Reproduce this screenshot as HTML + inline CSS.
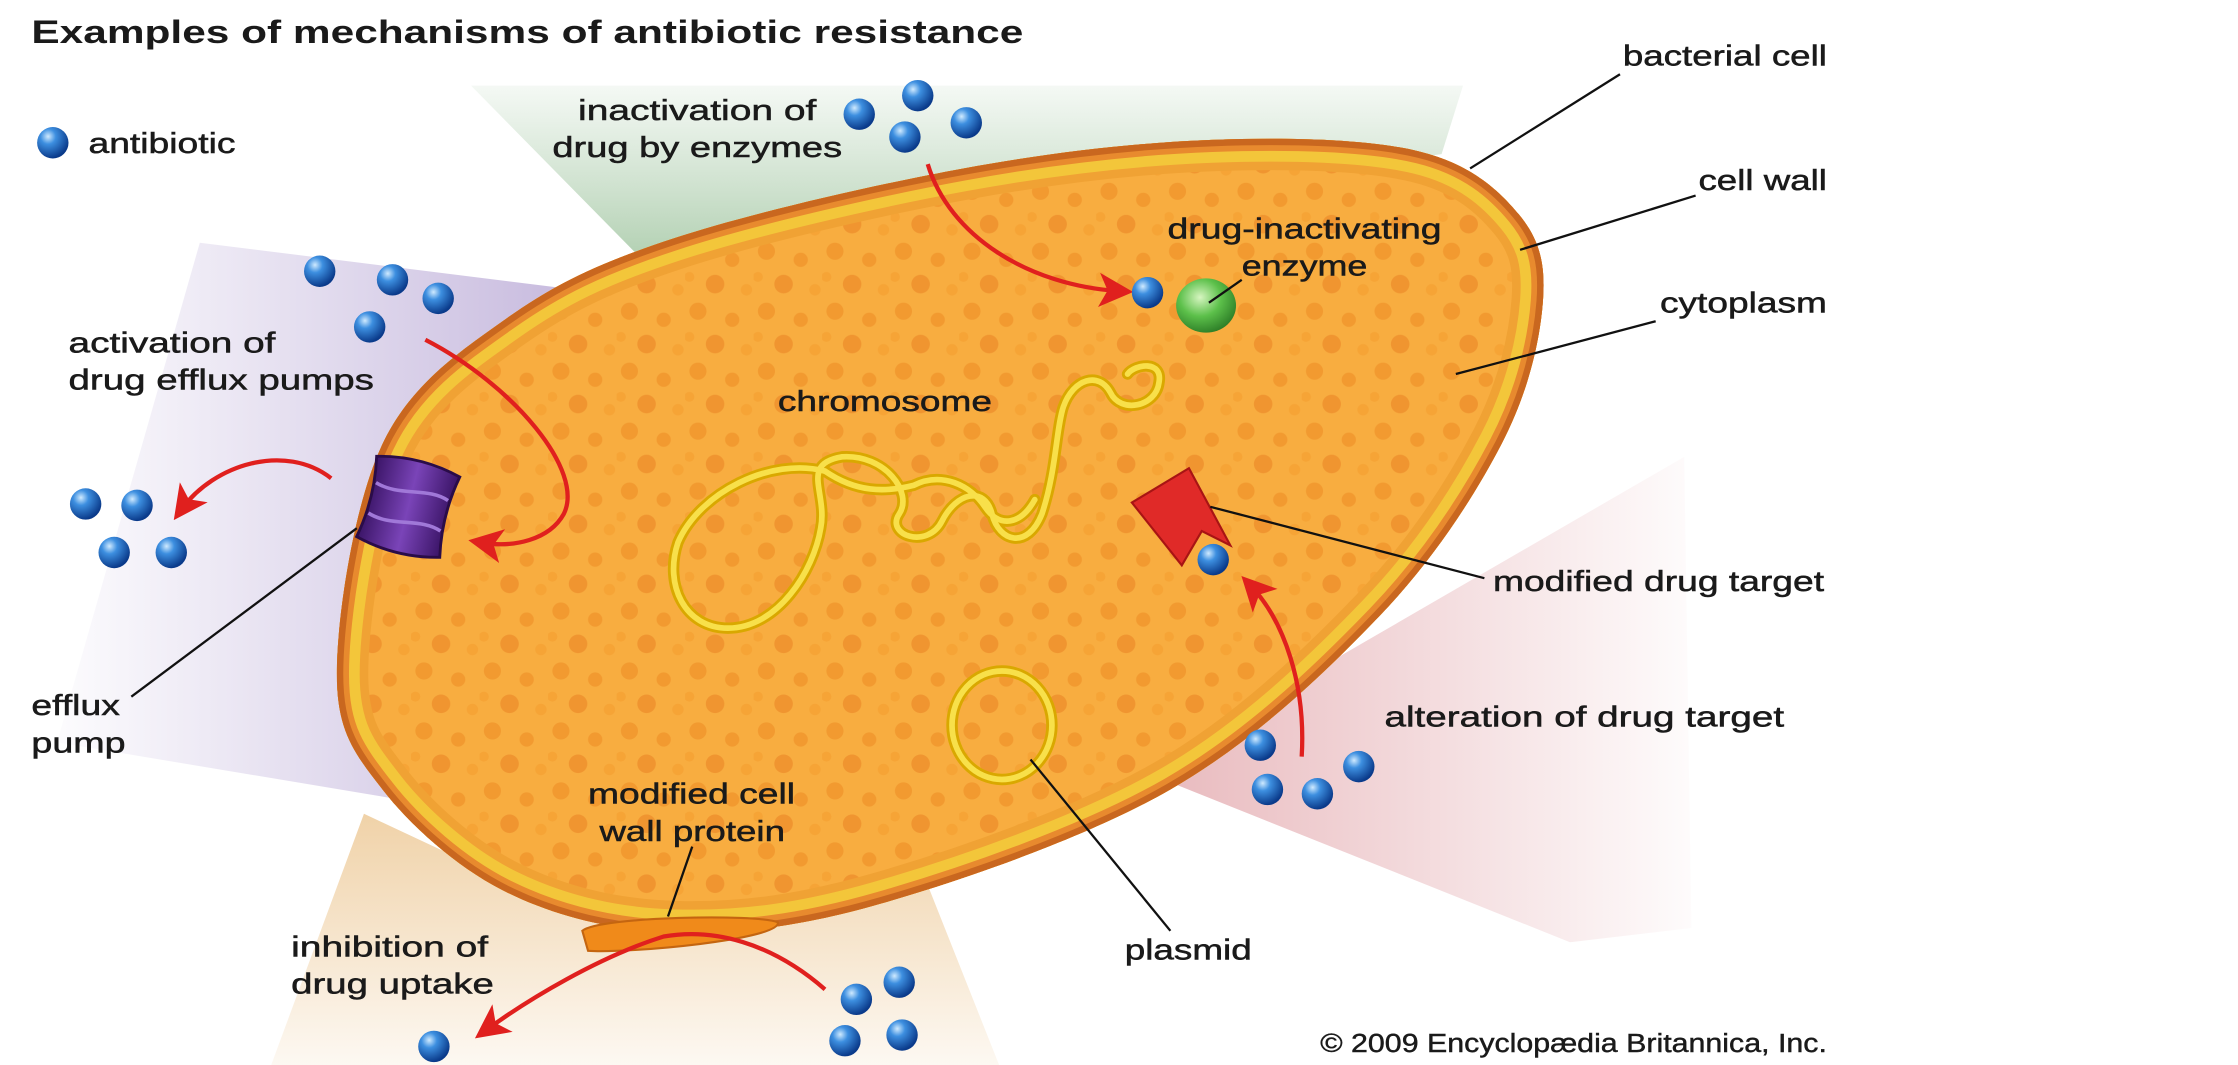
<!DOCTYPE html>
<html><head><meta charset="utf-8"><style>
html,body{margin:0;padding:0;background:#fff;}
svg{display:block;}
text{font-family:"Liberation Sans",Arial,sans-serif;fill:#1a1a1a;}
</style></head><body>
<svg width="2238" height="1065" viewBox="0 0 1568 746" preserveAspectRatio="none" xmlns="http://www.w3.org/2000/svg">
<defs>
<radialGradient id="ball" cx="35%" cy="30%" r="70%">
<stop offset="0" stop-color="#cfeaff"/><stop offset="0.35" stop-color="#3d8fe0"/><stop offset="1" stop-color="#0a3a8a"/>
</radialGradient>
<radialGradient id="grn" cx="40%" cy="35%" r="70%">
<stop offset="0" stop-color="#d6f5c0"/><stop offset="0.5" stop-color="#5cc04a"/><stop offset="1" stop-color="#2a7a25"/>
</radialGradient>
<linearGradient id="gG" x1="0" y1="1" x2="0" y2="0"><stop offset="0" stop-color="#b2d0b2"/><stop offset="1" stop-color="#b8d4b8" stop-opacity="0.15"/></linearGradient>
<linearGradient id="gP" x1="1" y1="0" x2="0" y2="0"><stop offset="0" stop-color="#c4b6dc"/><stop offset="1" stop-color="#c9bde0" stop-opacity="0.05"/></linearGradient>
<linearGradient id="gR" x1="0" y1="0" x2="1" y2="0"><stop offset="0" stop-color="#e8b8bc"/><stop offset="1" stop-color="#e8b8bc" stop-opacity="0.05"/></linearGradient>
<linearGradient id="gO" x1="0" y1="0" x2="0" y2="1"><stop offset="0" stop-color="#f0d2a8"/><stop offset="1" stop-color="#f0d2a8" stop-opacity="0.15"/></linearGradient>
<linearGradient id="pump" x1="0" y1="0" x2="1" y2="0"><stop offset="0" stop-color="#3a1466"/><stop offset="0.5" stop-color="#7a44b8"/><stop offset="1" stop-color="#3a1466"/></linearGradient>
<pattern id="dots" width="48" height="42" patternUnits="userSpaceOnUse">
<rect width="48" height="42" fill="#f8ad40"/>
<circle cx="9" cy="8" r="6" fill="#f29a30"/><circle cx="33" cy="14" r="5" fill="#f29a30"/>
<circle cx="21" cy="31" r="6.5" fill="#f09530"/><circle cx="43" cy="35" r="4" fill="#f6a436"/>
<circle cx="3" cy="26" r="3.5" fill="#f6a436"/>
</pattern>
<path id="cell" d="M236,472 C236,431.7 248.2,352.5 268,311 C287.8,269.5 321,247 355,223 C389,199 418.7,184.5 472,167 C525.3,149.5 612.2,129.5 675,118 C737.8,106.5 795.8,100 849,98 C902.2,96 958.2,97.3 994,106 C1029.8,114.7 1049.5,132.5 1064,150 C1078.5,167.5 1083,184.2 1081,211 C1079,237.8 1071.2,274.2 1052,311 C1032.8,347.8 1004.7,391.7 966,432 C927.3,472.3 878.2,519.5 820,553 C761.8,586.5 675,616.3 617,633 C559,649.7 515.7,654.3 472,653 C428.3,651.7 389,641.7 355,625 C321,608.3 287.8,578.5 268,553 C248.2,527.5 236,512.3 236,472 Z"/>
<clipPath id="cc"><use href="#cell"/></clipPath>
<marker id="ah" markerWidth="8" markerHeight="8" refX="5" refY="4" orient="auto" markerUnits="strokeWidth">
<path d="M0,0 L8,4 L0,8 L2,4 z" fill="#e0201e"/></marker>
</defs>

<polygon points="330,60 1025,60 1010,108 450,182" fill="url(#gG)"/>
<polygon points="140,170 420,205 280,560 40,520" fill="url(#gP)"/>
<polygon points="800,540 1180,320 1185,650 1100,660" fill="url(#gR)"/>
<polygon points="255,570 430,652 650,620 700,746 190,746" fill="url(#gO)"/>

<use href="#cell" fill="url(#dots)"/>
<g clip-path="url(#cc)" fill="none">
<use href="#cell" stroke="#f0a234" stroke-width="44"/>
<use href="#cell" stroke="#f3c63a" stroke-width="32"/>
<use href="#cell" stroke="#e88a2e" stroke-width="17"/>
<use href="#cell" stroke="#c9671f" stroke-width="9"/>
</g>

<g fill="none" stroke="#d9a800" stroke-width="8" stroke-linecap="round" stroke-linejoin="round">
<path d="M578,330 C540,320 490,345 475,380 C465,410 480,440 510,440 C545,440 570,400 575,370 C580,345 560,325 590,320 C620,318 640,345 630,360 C620,375 650,385 660,365 C670,345 690,340 695,360 C700,380 720,385 730,360 C740,330 740,300 745,285 C752,265 770,260 778,275 C785,290 810,285 812,268 C815,252 795,255 790,262"/>
<path d="M578,330 C600,345 620,345 640,340 C660,330 680,340 690,355 C700,370 715,368 725,350"/>
</g>
<g fill="none" stroke="#f8e04a" stroke-width="4" stroke-linecap="round" stroke-linejoin="round">
<path d="M578,330 C540,320 490,345 475,380 C465,410 480,440 510,440 C545,440 570,400 575,370 C580,345 560,325 590,320 C620,318 640,345 630,360 C620,375 650,385 660,365 C670,345 690,340 695,360 C700,380 720,385 730,360 C740,330 740,300 745,285 C752,265 770,260 778,275 C785,290 810,285 812,268 C815,252 795,255 790,262"/>
<path d="M578,330 C600,345 620,345 640,340 C660,330 680,340 690,355 C700,370 715,368 725,350"/>
</g>
<ellipse cx="702" cy="508" rx="35" ry="38" fill="none" stroke="#d9a800" stroke-width="8"/>
<ellipse cx="702" cy="508" rx="35" ry="38" fill="none" stroke="#f8e04a" stroke-width="4"/>

<ellipse cx="845" cy="214" rx="21" ry="19" fill="url(#grn)"/>
<polygon points="793,352 833,328 862,382 842,372 828,396" fill="#e02a28" stroke="#a81414" stroke-width="1.5"/>

<g transform="rotate(14 286 355)">
<path d="M256,326 Q286,318 316,326 Q310,355 316,384 Q286,392 256,384 Q262,355 256,326 Z" fill="url(#pump)" stroke="#2a0c48" stroke-width="2"/>
<path d="M260,344 C278,350 296,338 312,344 M260,366 C278,372 296,360 312,366" stroke="#a078d8" stroke-width="2.5" fill="none"/>
</g>
<path d="M408,652 C420,642 530,640 545,646 C548,658 440,668 412,666 Z" fill="#f08a1a" stroke="#c46510" stroke-width="1.5"/>

<g fill="none" stroke="#e0201e" stroke-width="3" marker-end="url(#ah)">
<path d="M650,115 C665,165 720,200 785,204"/>
<path d="M298,238 C360,270 410,330 395,360 C385,378 360,384 337,380"/>
<path d="M232,335 C200,310 150,325 127,357"/>
<path d="M912,530 C915,480 900,435 876,410"/>
<path d="M578,693 C540,660 500,650 465,656 C420,670 370,700 340,722"/>
</g>

<g stroke="#111" stroke-width="1.6" fill="none">
<line x1="1135" y1="52" x2="1030" y2="118"/>
<line x1="1188" y1="137" x2="1065" y2="175"/>
<line x1="1160" y1="225" x2="1020" y2="262"/>
<line x1="870" y1="196" x2="847" y2="212"/>
<line x1="1040" y1="405" x2="848" y2="355"/>
<line x1="92" y1="488" x2="250" y2="370"/>
<line x1="485" y1="593" x2="468" y2="642"/>
<line x1="820" y1="652" x2="722" y2="532"/>
</g>

<g fill="url(#ball)">
<circle cx="37" cy="100" r="11"/>
<circle cx="602" cy="80" r="11"/><circle cx="643" cy="67" r="11"/><circle cx="677" cy="86" r="11"/><circle cx="634" cy="96" r="11"/>
<circle cx="224" cy="190" r="11"/><circle cx="275" cy="196" r="11"/><circle cx="307" cy="209" r="11"/><circle cx="259" cy="229" r="11"/>
<circle cx="60" cy="353" r="11"/><circle cx="96" cy="354" r="11"/><circle cx="80" cy="387" r="11"/><circle cx="120" cy="387" r="11"/>
<circle cx="804" cy="205" r="11"/>
<circle cx="850" cy="392" r="11"/>
<circle cx="883" cy="522" r="11"/><circle cx="952" cy="537" r="11"/><circle cx="888" cy="553" r="11"/><circle cx="923" cy="556" r="11"/>
<circle cx="304" cy="733" r="11"/>
<circle cx="600" cy="700" r="11"/><circle cx="630" cy="688" r="11"/><circle cx="592" cy="729" r="11"/><circle cx="632" cy="725" r="11"/>
</g>

<text x="22" y="30" font-size="23" font-weight="bold" textLength="695" lengthAdjust="spacingAndGlyphs">Examples of mechanisms of antibiotic resistance</text>
<g font-size="20" stroke="#1a1a1a" stroke-width="0.35">
<text x="62" y="107" textLength="103" lengthAdjust="spacingAndGlyphs">antibiotic</text>
<text x="405" y="84" textLength="167" lengthAdjust="spacingAndGlyphs">inactivation of</text>
<text x="387" y="110" textLength="203" lengthAdjust="spacingAndGlyphs">drug by enzymes</text>
<text x="1137" y="46" textLength="143" lengthAdjust="spacingAndGlyphs">bacterial cell</text>
<text x="1190" y="133" textLength="90" lengthAdjust="spacingAndGlyphs">cell wall</text>
<text x="1163" y="219" textLength="117" lengthAdjust="spacingAndGlyphs">cytoplasm</text>
<text x="818" y="167" textLength="192" lengthAdjust="spacingAndGlyphs">drug-inactivating</text>
<text x="870" y="193" textLength="88" lengthAdjust="spacingAndGlyphs">enzyme</text>
<text x="48" y="247" textLength="145" lengthAdjust="spacingAndGlyphs">activation of</text>
<text x="48" y="273" textLength="214" lengthAdjust="spacingAndGlyphs">drug efflux pumps</text>
<text x="545" y="288" textLength="150" lengthAdjust="spacingAndGlyphs">chromosome</text>
<text x="1046" y="414" textLength="232" lengthAdjust="spacingAndGlyphs">modified drug target</text>
<text x="22" y="501" textLength="62" lengthAdjust="spacingAndGlyphs">efflux</text>
<text x="22" y="527" textLength="66" lengthAdjust="spacingAndGlyphs">pump</text>
<text x="970" y="509" textLength="280" lengthAdjust="spacingAndGlyphs">alteration of drug target</text>
<text x="412" y="563" textLength="145" lengthAdjust="spacingAndGlyphs">modified cell</text>
<text x="420" y="589" textLength="130" lengthAdjust="spacingAndGlyphs">wall protein</text>
<text x="788" y="672" textLength="89" lengthAdjust="spacingAndGlyphs">plasmid</text>
<text x="204" y="670" textLength="138" lengthAdjust="spacingAndGlyphs">inhibition of</text>
<text x="204" y="696" textLength="142" lengthAdjust="spacingAndGlyphs">drug uptake</text>
</g>
<text x="925" y="737" font-size="18" stroke="#1a1a1a" stroke-width="0.3" textLength="355" lengthAdjust="spacingAndGlyphs">© 2009 Encyclopædia Britannica, Inc.</text>
</svg>
</body></html>
